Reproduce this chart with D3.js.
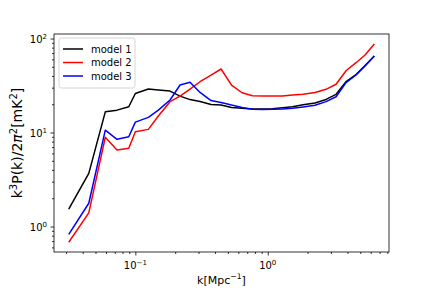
<!DOCTYPE html>
<html lang="en">
  <head>
    <meta charset="UTF-8" />
    <title>Power spectrum</title>
    <script src="https://d3js.org/d3.v7.min.js"></script>
    <style>
      body {
        margin: 0;
        background: #fff;
      }
      svg {
        font-family: "DejaVu Sans", sans-serif;
      }
    </style>
  </head>
  <body>
    <div id="chart"></div>
    <script>
      // k bins [Mpc^-1]
      const kValues = [
        0.0314, 0.0445, 0.0593, 0.0727, 0.0892, 0.1, 0.1254, 0.1492, 0.1828,
        0.2176, 0.2588, 0.3082, 0.373, 0.444, 0.5329, 0.6397, 0.7674, 0.9135,
        1.087, 1.293, 1.539, 1.848, 2.277, 2.756, 3.281, 3.903, 4.645, 5.433,
        6.383,
      ];
      const model1 = [
        1.53, 3.68, 16.6, 17.3, 18.8, 26.0, 29.0, 28.3, 27.6, 24.4, 22.4, 21.4,
        19.9, 19.6, 18.5, 18.1, 17.8, 17.8, 17.9, 18.3, 18.8, 19.7, 20.6, 22.5,
        25.5, 34.7, 41.4, 51.6, 65.2,
      ];
      const model2 = [
        0.68, 1.4, 8.89, 6.52, 6.79, 10.2, 10.8, 15.0, 21.3, 24.4, 29.0, 34.7,
        40.9, 47.4, 32.0, 26.5, 24.6, 24.4, 24.4, 24.5, 25.1, 25.5, 26.7, 28.8,
        32.6, 45.4, 55.3, 66.7, 87.3,
      ];
      const model3 = [
        0.826, 1.77, 10.6, 8.47, 9.02, 12.9, 14.5, 17.3, 22.2, 32.0, 34.2, 26.7,
        21.9, 20.9, 19.6, 18.5, 17.7, 17.6, 17.7, 17.8, 18.1, 18.7, 19.5, 21.3,
        24.0, 33.9, 40.9, 50.9, 65.2,
      ];
      const seriesNames = ["model 1", "model 2", "model 3"];
      const seriesColors = ["#000000", "#ff0000", "#0000ff"];

      const width = 432;
      const height = 288;
      const margin = { top: 34, right: 43, bottom: 36, left: 54 };

      const svg = d3
        .select("#chart")
        .append("svg")
        .attr("width", width)
        .attr("height", height);

      const x = d3
        .scaleLog()
        .domain([0.0243, 8.24])
        .range([margin.left, width - margin.right]);
      const y = d3
        .scaleLog()
        .domain([0.536, 111.7])
        .range([height - margin.bottom, margin.top]);

      const isMajor = (v) => Math.abs(Math.log10(v) - Math.round(Math.log10(v))) < 1e-6;
      const tickFmt = (v) => Math.round(Math.log10(v));

      // minor ticks
      svg
        .append("g")
        .attr("transform", `translate(0,${height - margin.bottom})`)
        .call(d3.axisBottom(x).tickValues(x.ticks().filter((v) => !isMajor(v))).tickSize(2).tickFormat(""))
        .call((g) => g.select(".domain").remove());
      svg
        .append("g")
        .attr("transform", `translate(${margin.left},0)`)
        .call(d3.axisLeft(y).tickValues(y.ticks().filter((v) => !isMajor(v))).tickSize(2).tickFormat(""))
        .call((g) => g.select(".domain").remove());

      // major ticks
      svg
        .append("g")
        .attr("transform", `translate(0,${height - margin.bottom})`)
        .call(d3.axisBottom(x).tickValues(x.ticks().filter(isMajor)).tickSize(3.5).tickFormat(""))
        .call((g) => g.select(".domain").remove());
      svg
        .append("g")
        .attr("transform", `translate(${margin.left},0)`)
        .call(d3.axisLeft(y).tickValues(y.ticks().filter(isMajor)).tickSize(3.5).tickFormat(""))
        .call((g) => g.select(".domain").remove());

      svg.selectAll(".tick line").attr("stroke", "#000").attr("stroke-width", 0.8);

      // tick labels with superscripts
      function powLabel(sel, v) {
        sel.append("tspan").text("10");
        sel
          .append("tspan")
          .attr("font-size", 7)
          .attr("dy", -4.5)
          .text(tickFmt(v) < 0 ? "\u2212" + Math.abs(tickFmt(v)) : tickFmt(v));
      }
      x.ticks()
        .filter(isMajor)
        .forEach((v) => {
          const t = svg
            .append("text")
            .attr("x", x(v))
            .attr("y", height - margin.bottom + 17)
            .attr("text-anchor", "middle")
            .attr("font-size", 10);
          powLabel(t, v);
        });
      y.ticks()
        .filter(isMajor)
        .forEach((v) => {
          const t = svg
            .append("text")
            .attr("x", margin.left - 7)
            .attr("y", y(v) + 4.5)
            .attr("text-anchor", "end")
            .attr("font-size", 10);
          powLabel(t, v);
        });

      // lines
      const series = [model1, model2, model3];
      const line = d3
        .line()
        .x((d, i) => x(kValues[i]))
        .y((d) => y(d));

      svg
        .append("defs")
        .append("clipPath")
        .attr("id", "clip")
        .append("rect")
        .attr("x", margin.left)
        .attr("y", margin.top)
        .attr("width", width - margin.left - margin.right)
        .attr("height", height - margin.top - margin.bottom);

      svg
        .append("g")
        .attr("clip-path", "url(#clip)")
        .selectAll("path")
        .data(series)
        .enter()
        .append("path")
        .attr("d", line)
        .attr("fill", "none")
        .attr("stroke", (d, i) => seriesColors[i])
        .attr("stroke-width", 1.5)
        .attr("stroke-linejoin", "round");

      // frame
      svg
        .append("rect")
        .attr("x", margin.left)
        .attr("y", margin.top)
        .attr("width", width - margin.left - margin.right)
        .attr("height", height - margin.top - margin.bottom)
        .attr("fill", "none")
        .attr("stroke", "#000")
        .attr("stroke-width", 0.8);

      // axis labels
      const xl = svg
        .append("text")
        .attr("x", (margin.left + width - margin.right) / 2)
        .attr("y", height - 4)
        .attr("text-anchor", "middle")
        .attr("font-size", 11);
      xl.append("tspan").text("k[Mpc");
      xl.append("tspan").attr("font-size", 7.7).attr("dy", -5).text("\u22121");
      xl.append("tspan").attr("dy", 5).text("]");

      const yl = svg
        .append("text")
        .attr("transform", `translate(22,${(margin.top + height - margin.bottom) / 2}) rotate(-90)`)
        .attr("text-anchor", "middle")
        .attr("font-size", 14);
      yl.append("tspan").text("k");
      yl.append("tspan").attr("font-size", 10).attr("dy", -5.5).text("3");
      yl.append("tspan").attr("dy", 5.5).text("P(k)/2");
      yl.append("tspan").attr("font-style", "italic").text("\u03c0");
      yl.append("tspan").attr("font-size", 10).attr("dy", -5.5).text("2");
      yl.append("tspan").attr("dy", 5.5).text("[mK");
      yl.append("tspan").attr("font-size", 10).attr("dy", -5.5).text("2");
      yl.append("tspan").attr("dy", 5.5).text("]");

      // legend
      const legend = svg.append("g").attr("transform", `translate(${margin.left + 5},${margin.top + 4})`);
      legend
        .append("rect")
        .attr("width", 76)
        .attr("height", 50)
        .attr("rx", 2.5)
        .attr("fill", "#fff")
        .attr("fill-opacity", 0.8)
        .attr("stroke", "#cccccc")
        .attr("stroke-width", 0.8);
      seriesNames.forEach((name, i) => {
        const yy = 11 + i * 13.5;
        legend
          .append("line")
          .attr("x1", 4)
          .attr("x2", 24)
          .attr("y1", yy)
          .attr("y2", yy)
          .attr("stroke", seriesColors[i])
          .attr("stroke-width", 1.5);
        legend
          .append("text")
          .attr("x", 32)
          .attr("y", yy + 3.5)
          .attr("font-size", 10)
          .text(name);
      });
    </script>
  </body>
</html>
